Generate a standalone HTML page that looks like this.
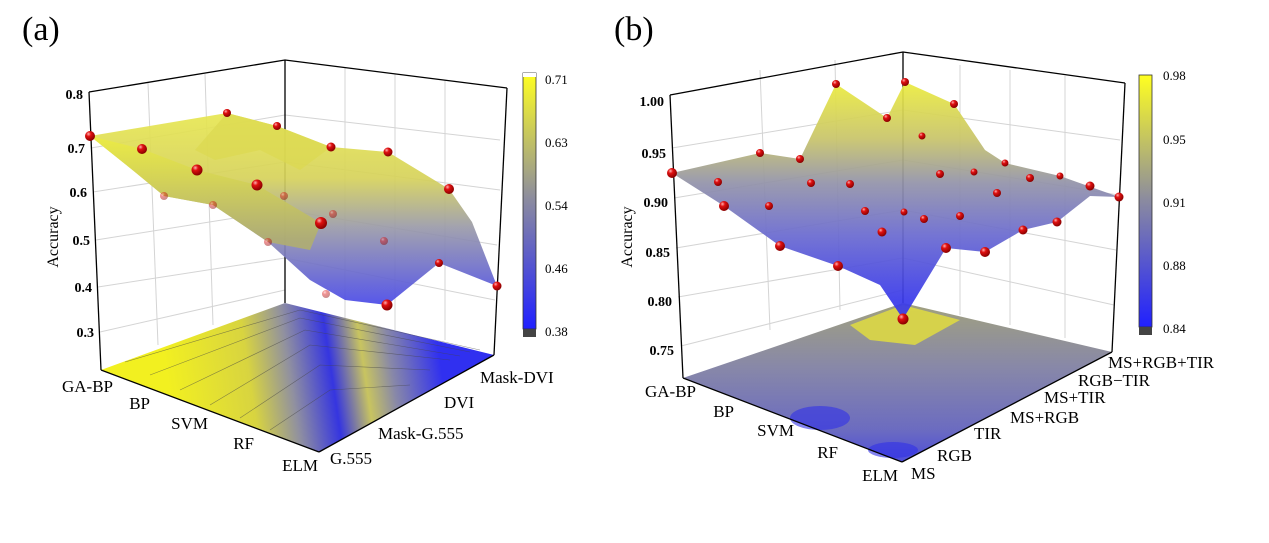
<!DOCTYPE html>
<html><head><meta charset="utf-8"><style>
html,body{margin:0;padding:0;background:#fff}
svg{display:block}
text{font-family:"Liberation Serif",serif;fill:#000}
.t{font-size:17px}
.y{font-size:14px;font-weight:bold}
.c{font-size:13px}
</style></head><body>
<svg width="1269" height="543" viewBox="0 0 1269 543" xmlns="http://www.w3.org/2000/svg">
<defs>
<radialGradient id="ball" cx="0.35" cy="0.3" r="0.7"><stop offset="0" stop-color="#ffb0b0"/><stop offset="0.35" stop-color="#e01010"/><stop offset="1" stop-color="#8a0000"/></radialGradient>
<linearGradient id="sa" x1="0" y1="110" x2="0" y2="305" gradientUnits="userSpaceOnUse"><stop offset="0" stop-color="#e8e850"/><stop offset="0.35" stop-color="#d6d25a"/><stop offset="0.6" stop-color="#9a9aa8"/><stop offset="1" stop-color="#4848e8"/></linearGradient>
<linearGradient id="sa2" x1="0" y1="130" x2="0" y2="240" gradientUnits="userSpaceOnUse"><stop offset="0" stop-color="#f0f040"/><stop offset="1" stop-color="#b0ae70"/></linearGradient>
<linearGradient id="fa" x1="170" y1="400" x2="440" y2="360" gradientUnits="userSpaceOnUse"><stop offset="0" stop-color="#f2f020"/><stop offset="0.3" stop-color="#d8d440"/><stop offset="0.45" stop-color="#9090a0"/><stop offset="0.6" stop-color="#3535e0"/><stop offset="0.72" stop-color="#c8c460"/><stop offset="0.82" stop-color="#8888a8"/><stop offset="1" stop-color="#3030f0"/></linearGradient>
<linearGradient id="sb" x1="0" y1="85" x2="0" y2="300" gradientUnits="userSpaceOnUse"><stop offset="0" stop-color="#eaea40"/><stop offset="0.25" stop-color="#c8c46a"/><stop offset="0.45" stop-color="#9494a8"/><stop offset="0.7" stop-color="#6a6ad0"/><stop offset="1" stop-color="#3a3aea"/></linearGradient>
<linearGradient id="fb" x1="0" y1="305" x2="0" y2="460" gradientUnits="userSpaceOnUse"><stop offset="0" stop-color="#a0a080"/><stop offset="0.4" stop-color="#8888a8"/><stop offset="0.8" stop-color="#6c6cc0"/><stop offset="1" stop-color="#5050d8"/></linearGradient>
<linearGradient id="cb" x1="0" y1="1" x2="0" y2="0"><stop offset="0" stop-color="#2020ff"/><stop offset="0.5" stop-color="#8a8aa0"/><stop offset="1" stop-color="#ffff20"/></linearGradient>
</defs>

<text x="22" y="40" style="font-size:34px">(a)</text>
<text x="614" y="40" style="font-size:34px">(b)</text>

<!-- ===== Panel a ===== -->
<g stroke="#d4d4d4" stroke-width="1" fill="none">
<line x1="148" y1="83" x2="158" y2="345"/><line x1="205" y1="74" x2="213" y2="325"/><line x1="345" y1="68" x2="345" y2="320"/><line x1="395" y1="74" x2="395" y2="330"/><line x1="445" y1="80" x2="445" y2="340"/>
<line x1="91" y1="148" x2="285" y2="115"/><line x1="93" y1="192" x2="285" y2="162"/><line x1="96" y1="240" x2="285" y2="210"/><line x1="98" y1="287" x2="285" y2="258"/><line x1="100" y1="332" x2="285" y2="290"/>
<line x1="285" y1="115" x2="500" y2="140"/><line x1="285" y1="162" x2="500" y2="190"/><line x1="285" y1="210" x2="497" y2="245"/><line x1="285" y1="258" x2="495" y2="300"/>
</g>
<g stroke="#000" stroke-width="1.3" fill="none">
<polyline points="89,92 285,60 507,88"/>
<line x1="285" y1="60" x2="285" y2="303"/>
<line x1="89" y1="92" x2="101" y2="370"/>
<line x1="507" y1="88" x2="494" y2="355"/>
</g>
<polygon points="101,370 285,303 494,355 319,452" fill="url(#fa)"/>
<g stroke="#444" stroke-width="0.6" fill="none" opacity="0.6">
<polyline points="125,362 300,310 480,350"/><polyline points="150,375 300,318 470,352"/><polyline points="180,390 305,330 460,356"/><polyline points="210,405 310,345 450,360"/><polyline points="240,418 320,365 430,370"/><polyline points="270,430 330,390 410,385"/>
</g>
<polygon points="227,113 277,126 331,147 388,152 449,189 472,222 497,286 439,263 387,305 345,300 310,280 268,242 213,205 164,196 135,172 90,136" fill="url(#sa)" opacity="0.92"/>
<polygon points="90,136 142,149 197,170 257,185 321,223 310,250 268,242 213,205 164,196 130,168" fill="url(#sa2)" opacity="0.9"/>
<polygon points="227,113 277,126 331,147 300,170 260,150 215,160 195,150" fill="#dcd850" opacity="0.7"/>
<g fill="url(#ball)" opacity="0.45">
<circle cx="164" cy="196" r="4"/><circle cx="213" cy="205" r="4"/><circle cx="284" cy="196" r="4"/><circle cx="333" cy="214" r="4"/><circle cx="268" cy="242" r="4"/><circle cx="384" cy="241" r="4"/><circle cx="326" cy="294" r="4"/>
</g>
<g fill="url(#ball)">
<circle cx="90" cy="136" r="5"/><circle cx="142" cy="149" r="5"/><circle cx="197" cy="170" r="5.5"/><circle cx="257" cy="185" r="5.5"/><circle cx="321" cy="223" r="6"/><circle cx="387" cy="305" r="5.5"/><circle cx="439" cy="263" r="4"/><circle cx="497" cy="286" r="4.5"/><circle cx="449" cy="189" r="5"/><circle cx="388" cy="152" r="4.5"/><circle cx="331" cy="147" r="4.5"/><circle cx="277" cy="126" r="4"/><circle cx="227" cy="113" r="4"/>
</g>
<g stroke="#000" stroke-width="1.3"><line x1="101" y1="370" x2="319" y2="452"/><line x1="319" y1="452" x2="494" y2="355"/></g>
<g class="y" text-anchor="end">
<text x="83" y="99">0.8</text><text x="85" y="153">0.7</text><text x="87" y="197">0.6</text><text x="90" y="245">0.5</text><text x="92" y="292">0.4</text><text x="94" y="337">0.3</text>
</g>
<text class="t" transform="translate(58,237) rotate(-90)" text-anchor="middle" style="font-size:16px">Accuracy</text>
<g class="t" text-anchor="end">
<text x="113" y="392">GA-BP</text><text x="150" y="409">BP</text><text x="208" y="429">SVM</text><text x="254" y="449">RF</text><text x="318" y="471">ELM</text>
</g>
<g class="t">
<text x="330" y="464">G.555</text><text x="378" y="439">Mask-G.555</text><text x="444" y="408">DVI</text><text x="480" y="383">Mask-DVI</text>
</g>
<rect x="523" y="73" width="13" height="256" fill="url(#cb)" stroke="#333" stroke-width="0.8"/>
<rect x="523" y="329" width="13" height="8" fill="#444"/>
<rect x="523" y="73" width="13" height="4" fill="#fff"/>
<g class="c"><text x="545" y="84">0.71</text><text x="545" y="147">0.63</text><text x="545" y="210">0.54</text><text x="545" y="273">0.46</text><text x="545" y="336">0.38</text></g>

<!-- ===== Panel b ===== -->
<g stroke="#d4d4d4" stroke-width="1" fill="none">
<line x1="760" y1="70" x2="770" y2="330"/><line x1="835" y1="60" x2="840" y2="310"/><line x1="960" y1="65" x2="960" y2="315"/><line x1="1010" y1="70" x2="1010" y2="325"/><line x1="1065" y1="76" x2="1065" y2="338"/>
<line x1="672" y1="148" x2="903" y2="110"/><line x1="674" y1="198" x2="903" y2="160"/><line x1="676" y1="248" x2="903" y2="210"/><line x1="678" y1="297" x2="903" y2="258"/><line x1="681" y1="346" x2="903" y2="290"/>
<line x1="903" y1="110" x2="1120" y2="140"/><line x1="903" y1="160" x2="1118" y2="195"/><line x1="903" y1="210" x2="1116" y2="250"/><line x1="903" y1="258" x2="1114" y2="305"/>
</g>
<g stroke="#000" stroke-width="1.3" fill="none">
<polyline points="670,95 903,52 1125,83"/>
<line x1="903" y1="52" x2="903" y2="303"/>
<line x1="670" y1="95" x2="683" y2="378"/>
<line x1="1125" y1="83" x2="1112" y2="352"/>
</g>
<polygon points="683,378 903,303 1112,352 902,462" fill="url(#fb)"/>
<polygon points="850,325 903,305 960,320 915,345 870,340" fill="#e0dc40" opacity="0.85"/>
<ellipse cx="820" cy="418" rx="30" ry="12" fill="#3030e8" opacity="0.6"/>
<ellipse cx="893" cy="450" rx="25" ry="8" fill="#3030e8" opacity="0.6"/>
<polygon points="672,173 760,153 800,159 836,84 887,118 905,82 954,104 985,150 1005,163 1060,176 1119,197 1090,196 1057,222 1023,230 985,252 946,248 903,319 880,285 838,266 780,246 724,206" fill="url(#sb)" opacity="0.93"/>
<g fill="url(#ball)">
<circle cx="672" cy="173" r="5"/><circle cx="718" cy="182" r="4"/><circle cx="724" cy="206" r="5"/><circle cx="760" cy="153" r="4"/><circle cx="769" cy="206" r="4"/><circle cx="780" cy="246" r="5"/><circle cx="800" cy="159" r="4"/><circle cx="811" cy="183" r="4"/><circle cx="836" cy="84" r="4"/><circle cx="838" cy="266" r="5"/><circle cx="850" cy="184" r="4"/><circle cx="865" cy="211" r="4"/><circle cx="882" cy="232" r="4.5"/><circle cx="887" cy="118" r="4"/><circle cx="903" cy="319" r="5.5"/><circle cx="904" cy="212" r="3.5"/><circle cx="905" cy="82" r="4"/><circle cx="922" cy="136" r="3.5"/><circle cx="924" cy="219" r="4"/><circle cx="940" cy="174" r="4"/><circle cx="946" cy="248" r="5"/><circle cx="954" cy="104" r="4"/><circle cx="960" cy="216" r="4"/><circle cx="974" cy="172" r="3.5"/><circle cx="985" cy="252" r="5"/><circle cx="997" cy="193" r="4"/><circle cx="1005" cy="163" r="3.5"/><circle cx="1023" cy="230" r="4.5"/><circle cx="1030" cy="178" r="4"/><circle cx="1057" cy="222" r="4.5"/><circle cx="1060" cy="176" r="3.5"/><circle cx="1090" cy="186" r="4.5"/><circle cx="1119" cy="197" r="4.5"/>
</g>
<g stroke="#000" stroke-width="1.3"><line x1="683" y1="378" x2="902" y2="462"/><line x1="902" y1="462" x2="1112" y2="352"/></g>
<g class="y" text-anchor="end">
<text x="664" y="106">1.00</text><text x="666" y="158">0.95</text><text x="668" y="207">0.90</text><text x="670" y="257">0.85</text><text x="672" y="306">0.80</text><text x="674" y="355">0.75</text>
</g>
<text class="t" transform="translate(632,237) rotate(-90)" text-anchor="middle" style="font-size:16px">Accuracy</text>
<g class="t" text-anchor="end">
<text x="696" y="397">GA-BP</text><text x="734" y="417">BP</text><text x="794" y="436">SVM</text><text x="838" y="458">RF</text><text x="898" y="481">ELM</text>
</g>
<g class="t">
<text x="911" y="479">MS</text><text x="937" y="461">RGB</text><text x="974" y="439">TIR</text><text x="1010" y="423">MS+RGB</text><text x="1044" y="403">MS+TIR</text><text x="1078" y="386">RGB−TIR</text><text x="1108" y="368">MS+RGB+TIR</text>
</g>
<rect x="1139" y="75" width="13" height="252" fill="url(#cb)" stroke="#333" stroke-width="0.8"/>
<rect x="1139" y="327" width="13" height="8" fill="#444"/>
<g class="c"><text x="1163" y="80">0.98</text><text x="1163" y="144">0.95</text><text x="1163" y="207">0.91</text><text x="1163" y="270">0.88</text><text x="1163" y="333">0.84</text></g>
</svg>
</body></html>
